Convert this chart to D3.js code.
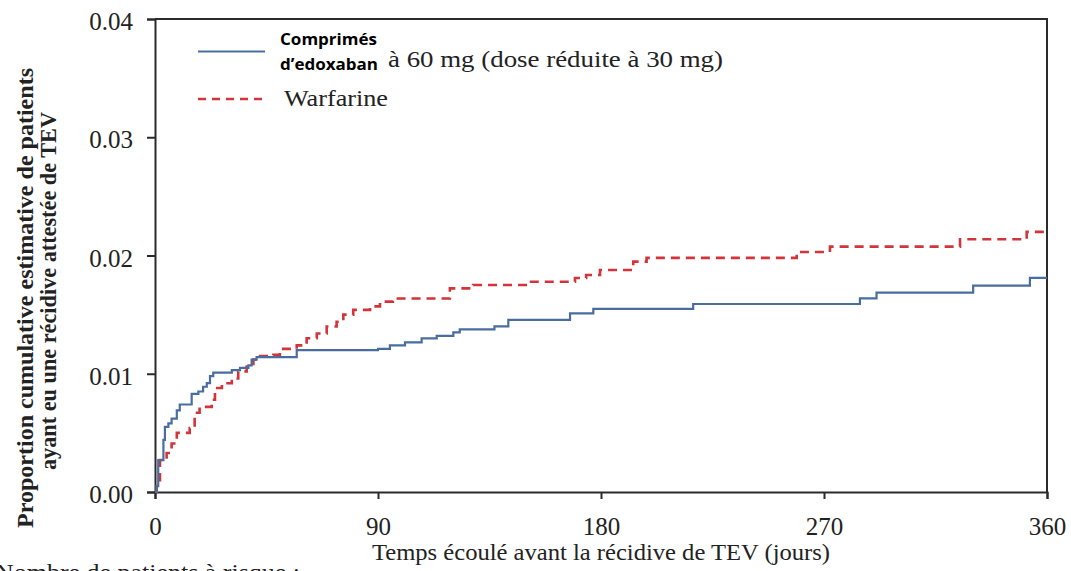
<!DOCTYPE html>
<html><head><meta charset="utf-8">
<script src="https://cdn.jsdelivr.net/npm/d3@7"></script>
<style>html,body{margin:0;padding:0;background:#fff;overflow:hidden}</style>
</head><body>
<svg id="chart" width="1071" height="571"></svg>
<script>
// ---- data ----
const xTicks = [0, 90, 180, 270, 360];
const yTicks = [0, 0.01, 0.02, 0.03, 0.04];
const edoxDays = [0, 0.7, 1.3, 3.4, 4, 5.4, 6.7, 8.8, 10, 14.8, 17.5, 19.4, 20.9, 22.2, 23.5, 31, 34.3, 37.7, 39, 41, 57.2, 90, 94.8, 100.9, 107.6, 113.7, 120.4, 123, 137, 142.6, 167.5, 176.9, 217.2, 284.5, 291.2, 330.2, 353.1, 360];
const edoxVals = [0, 0.0005, 0.0027, 0.0044, 0.0055, 0.0058, 0.0062, 0.0069, 0.0074, 0.0083, 0.0085, 0.0089, 0.0092, 0.0098, 0.0101, 0.0103, 0.0105, 0.0107, 0.0112, 0.0114, 0.0120, 0.0121, 0.0124, 0.01266, 0.0130, 0.0132, 0.0135, 0.01376, 0.0140, 0.01455, 0.0151, 0.01548, 0.0159, 0.01638, 0.01686, 0.01745, 0.0181, 0.0181];
const warfDays = [0, 0.7, 2, 4.7, 6.7, 8.8, 14, 16, 18, 22.9, 24.2, 27, 31, 33.6, 37, 39.7, 42.4, 47.7, 50.4, 57.2, 61.2, 65.3, 69.3, 73.3, 76, 80, 86.8, 90.8, 96, 119, 128.4, 151, 169.5, 174, 179.6, 193, 198.4, 259, 272.4, 324.9, 351.8, 360];
const warfVals = [0, 0.001, 0.0027, 0.0033, 0.0041, 0.005, 0.0054, 0.0067, 0.0072, 0.0078, 0.0088, 0.0092, 0.0096, 0.0102, 0.0106, 0.0112, 0.0115, 0.0116, 0.0121, 0.0124, 0.0130, 0.0134, 0.0140, 0.0144, 0.0150, 0.0154, 0.0157, 0.0161, 0.01636, 0.01722, 0.0175, 0.01778, 0.0181, 0.01835, 0.01877, 0.01948, 0.0198, 0.0203, 0.02075, 0.02137, 0.0220, 0.0220];
const seriesNames = ["Comprimés", "d’edoxaban", "à 60 mg (dose réduite à 30 mg)", "Warfarine"];
const xTitle = "Temps écoulé avant la récidive de TEV (jours)";
const yTitle = ["Proportion cumulative estimative de patients", "ayant eu une récidive attestée de TEV"];
const footText = "Nombre de patients à risque :";

// ---- layout ----
const svg = d3.select("#chart");
const L = 155, R = 1047, T = 19, B = 492;
const x = d3.scaleLinear().domain([0, 360]).range([L, R]);
const y = d3.scaleLinear().domain([0, 0.04]).range([B, T]);
const serif = "'Liberation Serif', 'Times New Roman', serif";
const axisColor = "#2b2b2b";
const blue = "#4a6d9f", red = "#d2343a";

// frame top & right
svg.append("path").attr("d", `M${L},${T}H${R}V${B}`).attr("fill", "none").attr("stroke", axisColor).attr("stroke-width", 2);

const xAxis = svg.append("g").attr("transform", `translate(0,${B})`)
  .call(d3.axisBottom(x).tickValues(xTicks).tickSize(7).tickPadding(13).tickFormat(d3.format("d")));
const yAxis = svg.append("g").attr("transform", `translate(${L},0)`)
  .call(d3.axisLeft(y).tickValues(yTicks).tickSize(8).tickPadding(14).tickFormat(d3.format(".2f")));
[xAxis, yAxis].forEach(g => {
  g.attr("font-family", serif);
  g.select(".domain").attr("stroke", axisColor).attr("stroke-width", 2);
  g.selectAll(".tick line").attr("stroke", axisColor).attr("stroke-width", 2);
  g.selectAll("text").attr("font-family", serif).attr("font-size", 25).attr("fill", "#222");
});
xAxis.selectAll(".tick text").attr("dy", "0.9em");
yAxis.selectAll(".tick text").attr("dy", "0.42em");

// curves
const line = d3.line().curve(d3.curveStepAfter).x(d => x(d[0])).y(d => y(d[1]));
svg.append("path").datum(d3.zip(warfDays, warfVals)).attr("d", line)
  .attr("fill", "none").attr("stroke", red).attr("stroke-width", 2.6).attr("stroke-dasharray", "9,6");
svg.append("path").datum(d3.zip(edoxDays, edoxVals)).attr("d", line)
  .attr("fill", "none").attr("stroke", blue).attr("stroke-width", 2.2);

// legend
svg.append("line").attr("x1", 198).attr("x2", 265).attr("y1", 51.5).attr("y2", 51.5).attr("stroke", blue).attr("stroke-width", 2.2);
svg.append("line").attr("x1", 198).attr("x2", 263).attr("y1", 99).attr("y2", 99).attr("stroke", red).attr("stroke-width", 2.6).attr("stroke-dasharray", "8,6");
const sans = "'Open Sans', 'Noto Sans', sans-serif";
svg.append("text").attr("x", 280).attr("y", 45).attr("font-family", sans).attr("font-weight", 700).attr("font-size", 16)
  .attr("textLength", 97).attr("lengthAdjust", "spacingAndGlyphs").text(seriesNames[0]);
svg.append("text").attr("x", 280).attr("y", 70).attr("font-family", sans).attr("font-weight", 700).attr("font-size", 16)
  .attr("textLength", 98).attr("lengthAdjust", "spacingAndGlyphs").text(seriesNames[1]);
svg.append("text").attr("x", 388).attr("y", 67).attr("font-family", serif).attr("font-size", 24).attr("fill", "#222")
  .attr("textLength", 335).attr("lengthAdjust", "spacingAndGlyphs").text(seriesNames[2]);
svg.append("text").attr("x", 284).attr("y", 106).attr("font-family", serif).attr("font-size", 24).attr("fill", "#222")
  .attr("textLength", 104).attr("lengthAdjust", "spacingAndGlyphs").text(seriesNames[3]);

// x title
svg.append("text").attr("x", 372).attr("y", 560).attr("font-family", serif).attr("font-size", 24).attr("fill", "#222")
  .attr("textLength", 458).attr("lengthAdjust", "spacingAndGlyphs").text(xTitle);
// y title
svg.append("text").attr("transform", "translate(33,528) rotate(-90)").attr("font-family", serif).attr("font-weight", 700)
  .attr("font-size", 23).attr("fill", "#222").attr("textLength", 460).attr("lengthAdjust", "spacingAndGlyphs").text(yTitle[0]);
svg.append("text").attr("transform", "translate(56,470) rotate(-90)").attr("font-family", serif).attr("font-weight", 700)
  .attr("font-size", 23).attr("fill", "#222").attr("textLength", 358).attr("lengthAdjust", "spacingAndGlyphs").text(yTitle[1]);
// footer (partly below the picture edge, as in the reference)
svg.append("text").attr("x", -5).attr("y", 580).attr("font-family", serif).attr("font-size", 24).attr("fill", "#222")
  .attr("textLength", 305).attr("lengthAdjust", "spacingAndGlyphs").text(footText);
</script>
</body></html>
